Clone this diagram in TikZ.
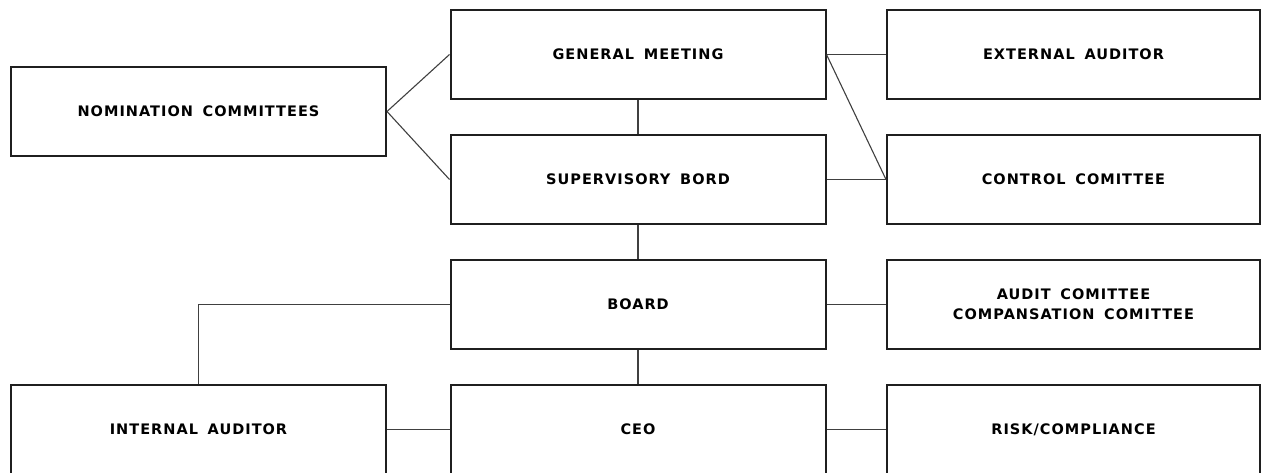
\documentclass[tikz,border=0pt]{standalone}
\usepackage{fontspec}
\setmainfont{DejaVu Sans}[LetterSpace=7,WordSpace=1.6]
\begin{document}
\begin{tikzpicture}[x=1pt,y=-1pt,
  box/.style={draw=black!88,line width=2pt,fill=white,inner sep=0pt,
    minimum height=89pt,align=center,font=\bfseries\fontsize{14.5}{20}\selectfont},
  widebox/.style={box,minimum width=375pt},
  rbox/.style={box,minimum width=373pt},
  link/.style={draw=black!75,line width=1.1pt}]
\useasboundingbox (0,0) rectangle (1261,473);
\fill[white] (0,0) rectangle (1261,473);
\node[widebox] (nom) at (198.5,111.5) {NOMINATION COMMITTEES};
\node[widebox] (gm) at (638,54.5) {GENERAL MEETING};
\node[widebox] (sb) at (638,179.5) {SUPERVISORY BORD};
\node[widebox] (board) at (638,304.5) {BOARD};
\node[widebox] (ceo) at (638,429.5) {CEO};
\node[widebox] (int) at (198.5,429.5) {INTERNAL AUDITOR};
\node[rbox] (ext) at (1073.5,54.5) {EXTERNAL AUDITOR};
\node[rbox] (ctl) at (1073.5,179.5) {CONTROL COMITTEE};
\node[rbox] (aud) at (1073.5,304.5) {AUDIT COMITTEE\\COMPANSATION COMITTEE};
\node[rbox] (risk) at (1073.5,429.5) {RISK/COMPLIANCE};
\path[link] (nom.east) -- (gm.west);
\path[link] (nom.east) -- (sb.west);
\path[link] (gm.east) -- (ext.west);
\path[link] (gm.east) -- (ctl.west);
\path[link] (sb.east) -- (ctl.west);
\path[link] (gm.south) -- (sb.north);
\path[link] (sb.south) -- (board.north);
\path[link] (board.south) -- (ceo.north);
\path[link] (board.west) -| (int.north);
\path[link] (board.east) -- (aud.west);
\path[link] (ceo.west) -- (int.east);
\path[link] (ceo.east) -- (risk.west);
\end{tikzpicture}
\end{document}
